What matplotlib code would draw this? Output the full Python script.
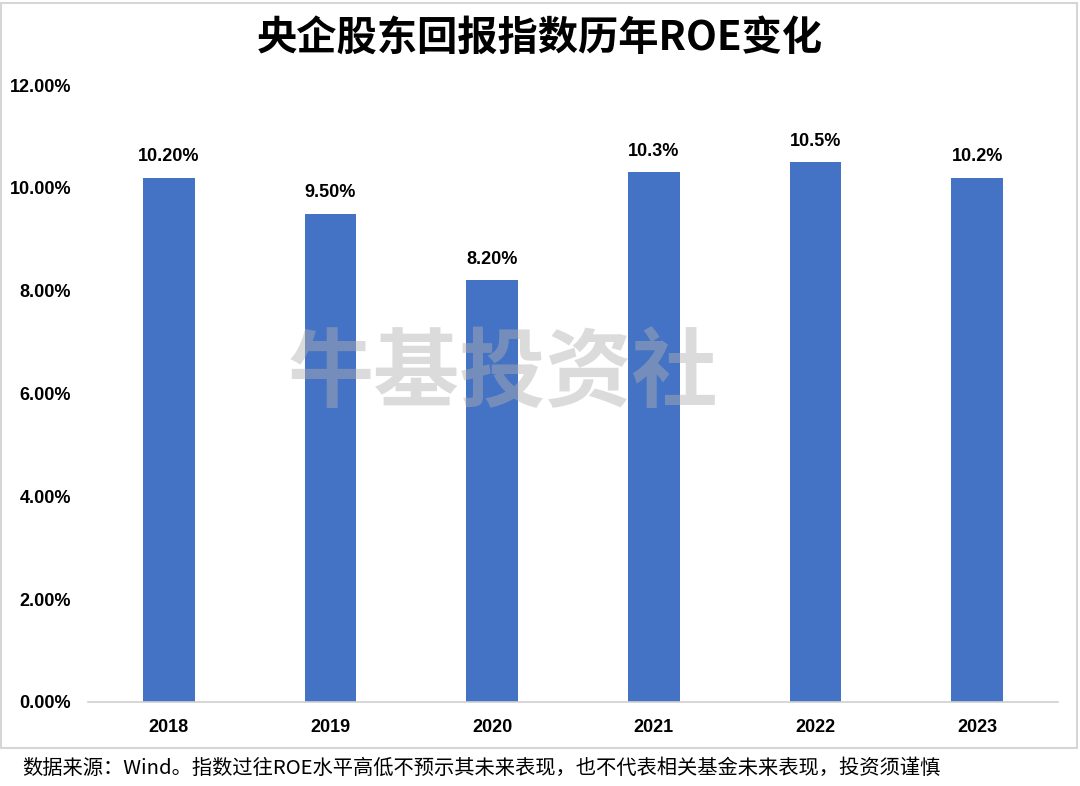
import matplotlib.pyplot as plt
from matplotlib.patches import Rectangle

plt.rcParams['font.family'] = ['Liberation Sans', 'Noto Sans CJK SC', 'DejaVu Sans']

years = ["2018", "2019", "2020", "2021", "2022", "2023"]
roe = [10.2, 9.5, 8.2, 10.3, 10.5, 10.2]
bar_labels = ["10.20%", "9.50%", "8.20%", "10.3%", "10.5%", "10.2%"]
y_ticks = [0, 2, 4, 6, 8, 10, 12]

title = "央企股东回报指数历年ROE变化"
footer = "数据来源：Wind。指数过往ROE水平高低不预示其未来表现，也不代表相关基金未来表现，投资须谨慎"
watermark = "牛基投资社"

cjk = ["Noto Sans CJK SC", "DejaVu Sans"]

fig = plt.figure(figsize=(10.8, 7.86), dpi=100)
fig.patch.set_facecolor("white")

# light grey frame around the chart area
fig.patches.append(Rectangle((1 / 1080, 1 - 748 / 786), 1076 / 1080, 745 / 786,
                             transform=fig.transFigure, fill=False,
                             edgecolor="#d6d6d6", linewidth=1.5))

ax = fig.add_axes([88 / 1080, 84 / 786, 970 / 1080, 617 / 786])
x = range(len(years))
ax.bar(x, roe, width=0.32, color="#4472C4", zorder=2)

for xi, v, lab in zip(x, roe, bar_labels):
    ax.annotate(lab, (xi, v), xytext=(0, 9), textcoords="offset points",
                ha="center", va="bottom", fontsize=13, fontweight="bold")

ax.set_xlim(-0.5, len(years) - 0.5)
ax.set_ylim(0, 12)
ax.set_yticks(y_ticks)
ax.set_yticklabels([f"{t:.2f}%" for t in y_ticks], fontsize=13, fontweight="bold")
ax.set_xticks(list(x))
ax.set_xticklabels(years, fontsize=13, fontweight="bold")
ax.tick_params(length=0, pad=12)
for s in ["top", "right", "left"]:
    ax.spines[s].set_visible(False)
ax.spines["bottom"].set_color("#d0d0d0")
ax.spines["bottom"].set_linewidth(1.2)

fig.text(0.5, 1 - 38 / 786, title, ha="center", va="center", fontsize=29,
         fontweight="heavy", family=cjk)
fig.text(22 / 1080, 1 - 768 / 786, footer, ha="left", va="center", fontsize=14.6,
         family=cjk)
fig.text(503 / 1080, 1 - 375 / 786, watermark, ha="center", va="center", fontsize=62,
         fontweight="heavy", color="#b0b0b0", alpha=0.45, family=cjk, zorder=5)

fig.savefig("out.png", dpi=100)
